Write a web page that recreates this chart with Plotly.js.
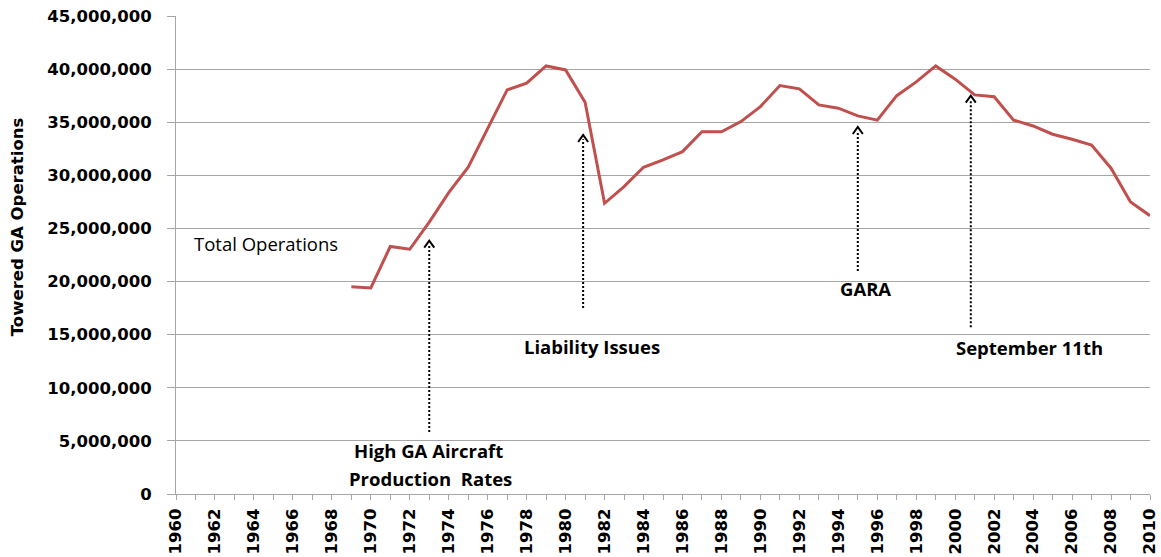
<!DOCTYPE html>
<html>
<head>
<meta charset="utf-8">
<script src="https://cdn.plot.ly/plotly-3.0.1.min.js"></script>
<style>html,body{margin:0;padding:0;background:#fff;}#chart{width:1161px;height:557px;}</style>
</head>
<body>
<div id="chart"></div>
<script>
// ---- data ----
const years = [1969,1970,1971,1972,1973,1974,1975,1976,1977,1978,1979,1980,1981,1982,1983,1984,1985,1986,1987,1988,1989,1990,1991,1992,1993,1994,1995,1996,1997,1998,1999,2000,2001,2002,2003,2004,2005,2006,2007,2008,2009,2010];
const totalOperations = [19520000,19400000,23300000,23040000,25600000,28370000,30760000,34460000,38040000,38670000,40300000,39920000,36880000,27370000,28940000,30760000,31450000,32230000,34100000,34100000,35060000,36470000,38450000,38140000,36630000,36320000,35600000,35200000,37500000,38800000,40300000,39050000,37570000,37400000,35200000,34650000,33870000,33400000,32860000,30670000,27500000,26200000];
const tickYears = [1960,1962,1964,1966,1968,1970,1972,1974,1976,1978,1980,1982,1984,1986,1988,1990,1992,1994,1996,1998,2000,2002,2004,2006,2008,2010];
const seriesName = "Total Operations";
const yTitle = "Towered GA Operations";
// events (arrow x position, arrow bottom value, arrow tip value)
const eventLabels = ["High GA Aircraft", "Liability Issues", "GARA", "September 11th"];
const eventX = [1973, 1980.9, 1995, 2000.8];
const eventBottom = [5840000, 17500000, 21000000, 15700000];
const eventTop = [23850000, 33800000, 34550000, 37500000];

// ---- layout ----
const gray = "#a6a6a6";
const tickFont = {family: "DejaVu Sans", size: 16.5, color: "#000", weight: "bold"};
const annFont = {family: "Open Sans", size: 18.5, color: "#000", weight: "bold"};

const trace = {
  x: years, y: totalOperations, type: "scatter", mode: "lines", name: seriesName,
  line: {color: "#c0504d", width: 3}, hoverinfo: "x+y"
};

const shapes = [];
for (let i = 0; i < eventX.length; i++) {
  shapes.push({type: "line", xref: "x", yref: "y", x0: eventX[i], x1: eventX[i],
    y0: eventBottom[i], y1: eventTop[i] - 400000,
    line: {color: "#000", width: 2, dash: "2px,2px"}});
  shapes.push({type: "path", xref: "x", yref: "y", xsizemode: "pixel", ysizemode: "pixel",
    xanchor: eventX[i], yanchor: eventTop[i],
    path: "M-5,-7 L0,0 L5,-7", line: {color: "#000", width: 2}});
}

const annotations = [
  {xref: "x", yref: "y", x: 1960.82, y: 23630000, xanchor: "left", yanchor: "middle", showarrow: false,
   text: seriesName, font: {family: "Open Sans", size: 18.5, color: "#000"}},
  {xref: "x", yref: "y", x: 1972.95, y: 4140000, showarrow: false, text: eventLabels[0], font: annFont},
  {xref: "x", yref: "y", x: 1973.05, y: 1500000, showarrow: false, text: "Production\u00a0 Rates", font: annFont},
  {xref: "x", yref: "y", x: 1981.35, y: 13930000, showarrow: false, text: eventLabels[1], font: annFont},
  {xref: "x", yref: "y", x: 1995.4, y: 19300000, showarrow: false, text: eventLabels[2], font: annFont},
  {xref: "x", yref: "y", x: 2003.8, y: 13750000, showarrow: false, text: eventLabels[3], font: annFont},
  {xref: "paper", yref: "paper", x: -0.162, y: 0.5586, xanchor: "center", yanchor: "middle", showarrow: false,
   textangle: -90, text: yTitle, font: tickFont}
];

const layout = {
  width: 1161, height: 557,
  margin: {l: 176, r: 11, t: 16, b: 63},
  paper_bgcolor: "#fff", plot_bgcolor: "#fff",
  showlegend: false,
  xaxis: {
    range: [1960, 2010], tickmode: "array", tickvals: tickYears, ticktext: tickYears.map(String),
    tickangle: -90, ticks: "outside", ticklen: 5, tickcolor: gray, tickwidth: 1,
    minor: {dtick: 1, tick0: 1960, ticks: "outside", ticklen: 5, tickcolor: gray, showgrid: false},
    showgrid: false, zeroline: false, showline: true, linecolor: gray, linewidth: 1,
    tickfont: tickFont, ticklabelstandoff: 2
  },
  yaxis: {
    range: [0, 45000000], dtick: 5000000, tick0: 0, tickformat: ",d",
    ticks: "outside", ticklen: 8, tickcolor: gray, tickwidth: 1,
    showgrid: true, gridcolor: gray, gridwidth: 1, zeroline: false,
    showline: true, linecolor: gray, linewidth: 1,
    tickfont: tickFont, ticklabelstandoff: 12
  },
  shapes: shapes,
  annotations: annotations
};

Plotly.newPlot("chart", [trace], layout, {displayModeBar: false, staticPlot: true});
</script>
</body>
</html>
